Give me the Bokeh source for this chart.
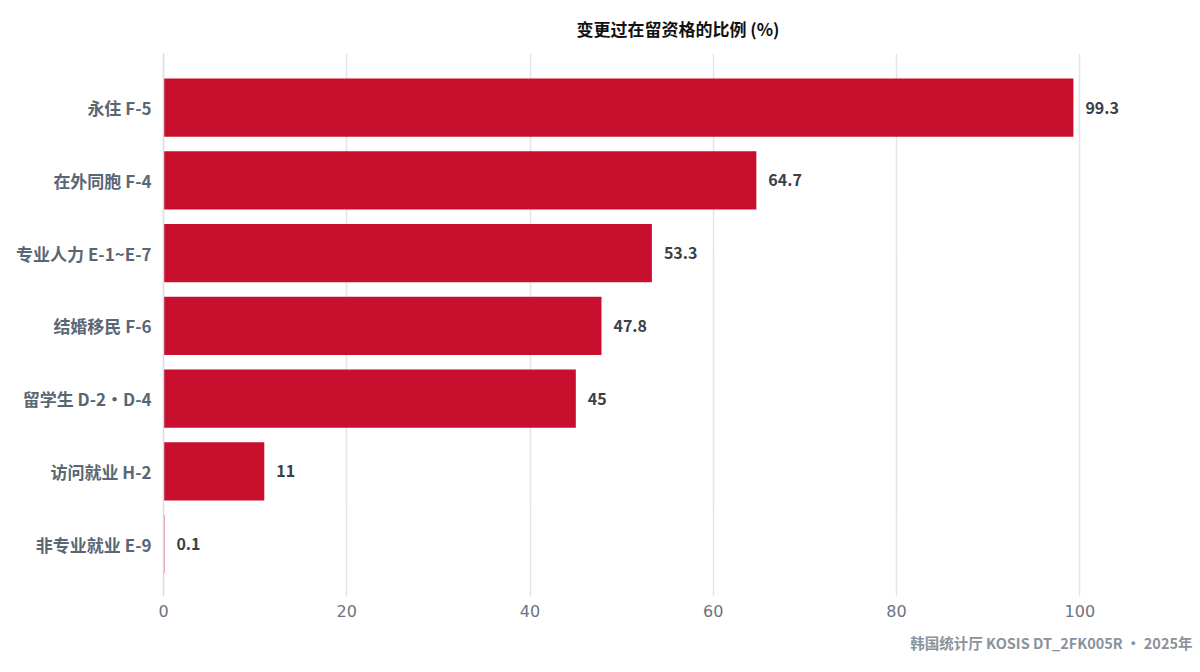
from bokeh.plotting import figure
from bokeh.models import ColumnDataSource, Range1d, FixedTicker, Title
from bokeh.core.properties import value
from bokeh.embed import file_html
from bokeh.resources import INLINE

# Data (top to bottom)
categories = ["永住 F-5", "在外同胞 F-4", "专业人力 E-1~E-7", "结婚移民 F-6",
              "留学生 D-2•D-4", "访问就业 H-2", "非专业就业 E-9"]
shares = [99.3, 64.7, 53.3, 47.8, 45, 11, 0.1]
share_labels = ["99.3", "64.7", "53.3", "47.8", "45", "11", "0.1"]
x_ticks = [0, 20, 40, 60, 80, 100]
source_note = "韩国统计厅 KOSIS DT_2FK005R • 2025年"

FONT = "Noto Sans CJK SC"
positions = list(range(len(categories)))

source = ColumnDataSource(data=dict(
    pos=positions,
    share=shares,
    label=share_labels,
))

p = figure(
    width=1195,
    height=670,
    x_range=Range1d(0, 112.3),
    y_range=Range1d(len(categories) - 1 + 0.72, -0.745),
    output_backend="svg",
    toolbar_location=None,
    tools="",
    min_border_left=163,
    min_border_right=3,
    min_border_top=10,
    min_border_bottom=74,
)

p.title.text = "变更过在留资格的比例 (%)"
p.title.align = "center"
p.title.text_font = FONT
p.title.text_font_size = "17px"
p.title.text_font_style = "bold"
p.title.text_color = "#111111"
p.title.offset = 0
p.title.standoff = 26

# Bars
p.hbar(y="pos", right="share", left=0, height=0.8, source=source,
       fill_color="#c8102e", line_color=None)

# Value labels at bar ends
p.text(x="share", y="pos", text="label", source=source,
       x_offset=12, text_align="left", text_baseline="middle",
       text_font=value(FONT), text_font_size="16px", text_font_style="bold",
       text_color="#3a4048")

# Y axis with category names; its line doubles as the zero line
p.yaxis.ticker = FixedTicker(ticks=positions)
p.yaxis.major_label_overrides = {i: c for i, c in enumerate(categories)}
p.yaxis.major_label_text_font = FONT
p.yaxis.major_label_text_font_size = "17px"
p.yaxis.major_label_text_font_style = "bold"
p.yaxis.major_label_text_color = "#5b6674"
p.yaxis.axis_line_color = "#d9dbe1"
p.yaxis.axis_line_width = 1.5
p.yaxis.major_tick_line_color = None
p.yaxis.minor_tick_line_color = None
p.yaxis.major_label_standoff = 6

# X axis
p.xaxis.ticker = FixedTicker(ticks=x_ticks)
p.xaxis.major_label_text_font = "DejaVu Sans"
p.xaxis.major_label_text_font_size = "16px"
p.xaxis.major_label_text_color = "#6b7480"
p.xaxis.axis_line_color = None
p.xaxis.major_tick_line_color = None
p.xaxis.minor_tick_line_color = None
p.xaxis.major_label_standoff = 2

p.xgrid.ticker = FixedTicker(ticks=x_ticks)
p.xgrid.grid_line_color = "#e3e4e8"
p.xgrid.grid_line_width = 1.5
p.ygrid.grid_line_color = None
p.outline_line_color = None

# Source note
footer = Title(text=source_note, align="right",
               text_font=FONT, text_font_size="14.5px", text_font_style="bold",
               text_color="#8a929c", standoff=20)
p.add_layout(footer, "below")

open("out.html", "w").write(file_html(p, INLINE))
